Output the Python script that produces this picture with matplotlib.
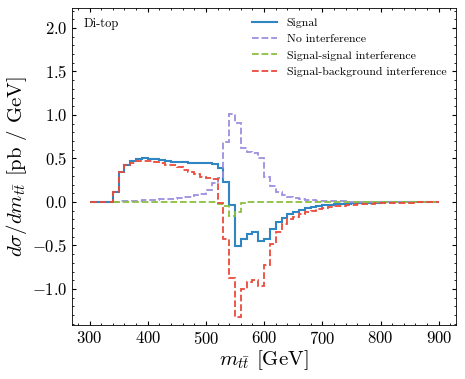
import numpy as np
import matplotlib
matplotlib.use("Agg")
import matplotlib.pyplot as plt
from matplotlib.ticker import MultipleLocator

# ── data: 10 GeV bins of m_tt ───────────────────────────────────────────────
edges = np.arange(300, 901, 10)
edges_late = np.arange(340, 901, 10)   # purple / green start at threshold

signal = [
    0, 0, 0, 0, 0.12, 0.34, 0.43, 0.47, 0.49, 0.50,
    0.495, 0.49, 0.48, 0.475, 0.465, 0.46, 0.455, 0.45, 0.45, 0.45,
    0.445, 0.44, 0.395, 0.226, -0.035, -0.51, -0.42, -0.37, -0.35, -0.45,
    -0.42, -0.31, -0.23, -0.18, -0.14, -0.11, -0.09, -0.075, -0.06, -0.05,
    -0.04, -0.033, -0.027, -0.022, -0.018, -0.015, -0.012, -0.01, -0.008, -0.007,
    -0.006, -0.005, -0.004, -0.004, -0.003, -0.003, -0.002, -0.002, -0.002, -0.001,
]
no_interf = [
    0.005, 0.008, 0.01, 0.013, 0.016, 0.02,
    0.023, 0.026, 0.03, 0.034, 0.039, 0.045, 0.052, 0.062, 0.075, 0.095,
    0.14, 0.22, 0.28, 0.69, 1.01, 0.91, 0.62, 0.58, 0.56, 0.50,
    0.29, 0.18, 0.11, 0.075, 0.055, 0.04, 0.03, 0.025, 0.02, 0.015,
    0.012, 0.01, 0.008, 0.006, 0.005, 0.004, 0.003, 0.003, 0.002, 0.002,
    0.002, 0.001, 0.001, 0.001, 0.001, 0.001, 0.001, 0.0, 0.0, 0.0,
]
sig_sig = [
    0, 0, 0, 0, 0, 0,
    0, 0, 0, 0, 0, 0, 0, 0, -0.001, -0.001,
    -0.002, -0.006, -0.02, -0.05, -0.165, -0.12, -0.015, -0.005, -0.002, -0.001,
    0, 0, 0, 0, 0, 0, 0, 0, 0, 0,
    0, 0, 0, 0, 0, 0, 0, 0, 0, 0,
    0, 0, 0, 0, 0, 0, 0, 0, 0, 0,
]
sig_bkg = [
    0, 0, 0, 0, 0.12, 0.35, 0.425, 0.45, 0.47, 0.475,
    0.47, 0.46, 0.45, 0.43, 0.42, 0.40, 0.37, 0.35, 0.32, 0.29,
    0.27, 0.26, -0.01, -0.42, -0.87, -1.32, -1.0, -0.92, -0.90, -0.97,
    -0.72, -0.48, -0.34, -0.25, -0.20, -0.17, -0.14, -0.12, -0.10, -0.085,
    -0.07, -0.06, -0.05, -0.042, -0.035, -0.03, -0.025, -0.021, -0.018, -0.015,
    -0.013, -0.011, -0.01, -0.009, -0.008, -0.007, -0.006, -0.006, -0.005, -0.005,
]

BLUE = "#2f86c2"
PURPLE = "#9d8fe2"
GREEN = "#8cbf3f"
RED = "#ea4a3a"

plt.rcParams.update({
    "font.family": "serif",
    "font.serif": ["cmr10", "DejaVu Serif"],
    "mathtext.fontset": "cm",
    "axes.formatter.use_mathtext": True,
    "axes.unicode_minus": True,
    "xtick.direction": "in",
    "ytick.direction": "in",
    "xtick.top": True,
    "ytick.right": True,
    "xtick.minor.visible": True,
    "ytick.minor.visible": True,
    "xtick.major.size": 3,
    "ytick.major.size": 3,
    "xtick.minor.size": 1.5,
    "ytick.minor.size": 1.5,
    "axes.linewidth": 0.6,
})

fig = plt.figure(figsize=(4.65, 3.79), dpi=100)
ax = fig.add_axes([0.155, 0.1425, 0.826, 0.8365])

ax.stairs(signal, edges, baseline=None, color=BLUE, lw=1.5, label="Signal")
ax.stairs(no_interf, edges_late, baseline=None, color=PURPLE, lw=1.3,
          ls="--", label="No interference")
ax.stairs(sig_sig, edges_late, baseline=None, color=GREEN, lw=1.3,
          ls="--", label="Signal-signal interference")
ax.stairs(sig_bkg, edges, baseline=None, color=RED, lw=1.3,
          ls="--", label="Signal-background interference")

ax.set_xlim(270, 930)
ax.set_ylim(-1.414, 2.23)
ax.xaxis.set_major_locator(MultipleLocator(100))
ax.xaxis.set_minor_locator(MultipleLocator(20))
ax.yaxis.set_major_locator(MultipleLocator(0.5))
ax.yaxis.set_minor_locator(MultipleLocator(0.1))
ax.tick_params(labelsize=12)

ax.set_xlabel(r"$m_{t\bar{t}}$ [GeV]", fontsize=15, labelpad=1)
ax.set_ylabel(r"$d\sigma/dm_{t\bar{t}}$ [pb / GeV]", fontsize=15, labelpad=2)

ax.text(0.03, 0.97, "Di-top", transform=ax.transAxes, fontsize=9,
        ha="left", va="top")
ax.legend(loc="upper right", frameon=False, fontsize=8.5,
          handlelength=2.1, labelspacing=0.5, borderaxespad=0.45)

fig.savefig("out.png", dpi=100)
